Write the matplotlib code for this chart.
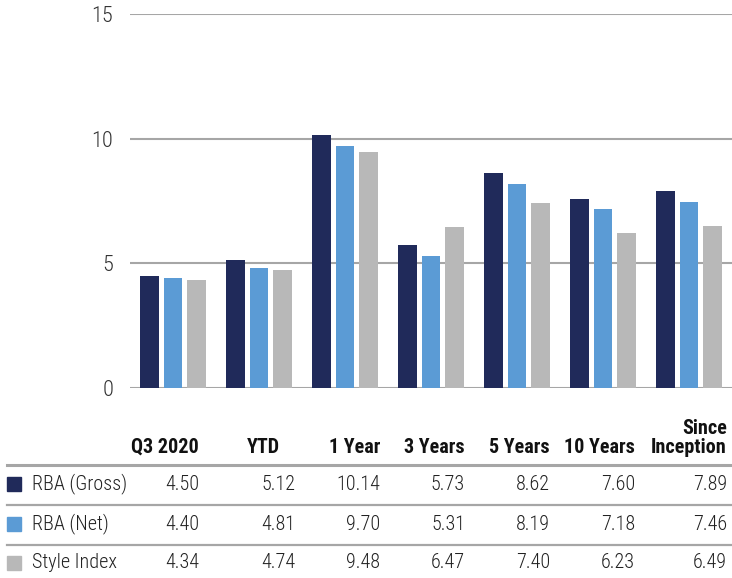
import matplotlib
matplotlib.use("Agg")
import matplotlib.pyplot as plt
import numpy as np

plt.rcParams['font.family'] = ['Roboto Condensed', 'DejaVu Sans']

periods = ['Q3 2020', 'YTD', '1 Year', '3 Years', '5 Years', '10 Years', 'Since\nInception']
series = ['RBA (Gross)', 'RBA (Net)', 'Style Index']
gross = [4.50, 5.12, 10.14, 5.73, 8.62, 7.60, 7.89]
net = [4.40, 4.81, 9.70, 5.31, 8.19, 7.18, 7.46]
style = [4.34, 4.74, 9.48, 6.47, 7.40, 6.23, 6.49]
colors = ['#202A5A', '#5B9BD5', '#B8B8B8']

fs = 14.5
W, H = 732, 578
fig = plt.figure(figsize=(W / 100, H / 100), dpi=100)
ax = fig.add_axes([130 / W, 1 - 388 / H, 602 / W, 374 / H])

x = np.arange(len(periods))
for k, vals in enumerate([gross, net, style]):
    ax.bar(x + (k - 1) * 0.273, vals, width=0.22, color=colors[k], zorder=3)

ax.set_xlim(-0.5, len(periods) - 0.5)
ax.set_ylim(0, 15)
ax.set_yticks([0, 5, 10, 15])
ax.yaxis.grid(True, color='#A6A6A6', linewidth=1.5, zorder=0)
ax.set_xticks([])
for s in ax.spines.values():
    s.set_visible(False)
ax.tick_params(axis='y', length=0, pad=12, labelsize=16, labelcolor='#333333')
for t in ax.get_yticklabels():
    t.set_fontweight('light')


def ft(px, py, s, **kw):
    fig.text(px / W, 1 - py / H, s, **kw)


# table header
col_right = [199, 295, 380, 465, 550, 635, 727]
head_right = [199, 280, 380, 465, 550, 635, 727]
for r, p in zip(head_right, periods):
    ft(r, 457, p, ha='right', va='bottom', fontsize=fs, fontweight='bold',
       color='#111111', linespacing=1.0)

line_y = [465, 505, 545]
for i, ly in enumerate(line_y):
    fig.add_artist(plt.Line2D([7 / W, 1], [1 - ly / H] * 2, color='#A6A6A6',
                              linewidth=2.2 if i == 0 else 1.6))

row_y = [484, 524, 563]
for j, (name, vals) in enumerate(zip(series, [gross, net, style])):
    fig.add_artist(plt.Rectangle((7 / W, 1 - (row_y[j] + 7) / H), 14 / W, 14 / H,
                                 color=colors[j]))
    ft(32, row_y[j], name, ha='left', va='center', fontsize=fs, color='#222222',
       fontweight='light')
    for r, v in zip(col_right, vals):
        ft(r, row_y[j], f'{v:.2f}', ha='right', va='center', fontsize=fs, color='#222222',
           fontweight='light')

fig.savefig('out.png', dpi=100)
